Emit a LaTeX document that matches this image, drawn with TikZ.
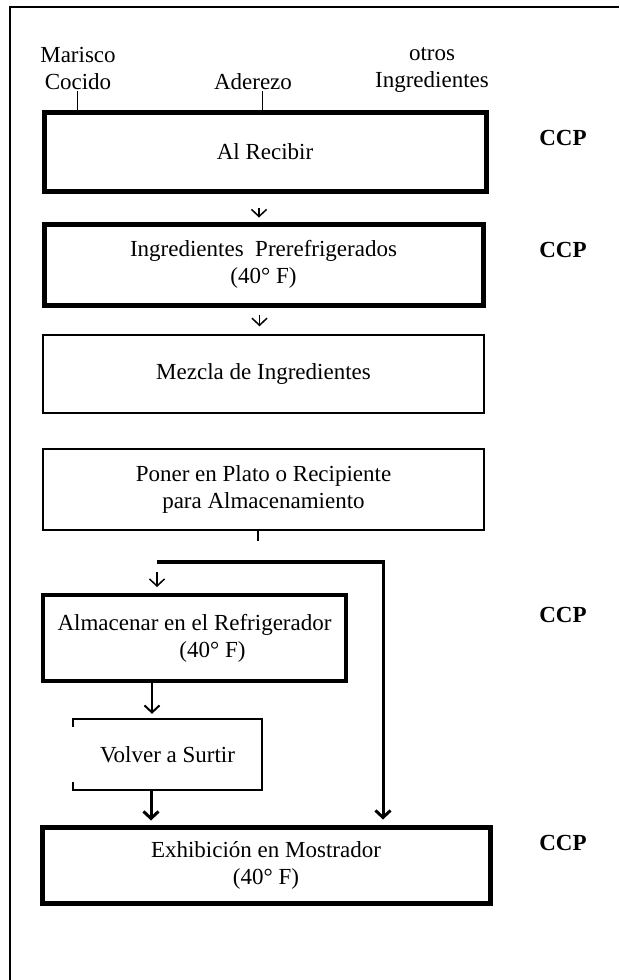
\documentclass[tikz,border=0pt]{standalone}
\usepackage{fontspec}
\setmainfont{Liberation Serif}
\usetikzlibrary{arrows.meta}

\begin{document}
\begin{tikzpicture}[x=1pt, y=1pt,
  every node/.style = {font=\fontsize{23}{27}\selectfont, inner sep=1pt},
  caja/.style = {draw, rectangle, align=center, inner sep=0pt},
  gruesa/.style = {caja, line width=5pt},
  fina/.style = {caja, line width=1.5pt},
  ccp/.style = {font=\fontsize{23}{27}\selectfont\bfseries},
  flecha/.style = {line width=1.5pt, -{Straight Barb[length=7pt,width=15pt]}}]

\useasboundingbox (0,0) rectangle (619,-980);
\draw[line width=2pt] (10,-980) -- (10,-7) -- (619,-7);

% entradas
\node[align=center] (marisco) at (78,-68.5) {Marisco\\Cocido};
\node (aderezo) at (253,-82) {Aderezo};
\node[align=center] (otros) at (432,-70) {otros\\Ingredientes};

% pasos
\node[gruesa, minimum width=442pt, minimum height=79pt] (recibir) at (265,-151.5) {Al Recibir};
\node[gruesa, minimum width=439pt, minimum height=81pt] (prerefri) at (263.5,-264.5) {Ingredientes\enspace Prerefrigerados\\(40° F)};
\node[fina, minimum width=441pt, minimum height=78pt] (mezcla) at (263.5,-374) {Mezcla de Ingredientes};
\node[fina, minimum width=441pt, minimum height=81pt] (poner) at (263.5,-489.5) {Poner en Plato o Recipiente\\para Almacenamiento};
\node[caja, line width=4pt, minimum width=303pt, minimum height=86pt] (almacenar) at (194.5,-638) {Almacenar en el Refrigerador\\\hspace*{36pt}(40° F)};
\node[caja, draw=none, minimum width=189pt, minimum height=71pt] (surtir) at (167.5,-754.5) {Volver a Surtir};
\node[gruesa, minimum width=448pt, minimum height=76pt] (exhibicion) at (266,-865) {Exhibición en Mostrador\\(40° F)};

\draw[line width=2pt] ([yshift=-8pt]surtir.north west) -- (surtir.north west) -- (surtir.north east) -- (surtir.south east) -- (surtir.south west) -- ([yshift=8pt]surtir.south west);

% CCP
\node[ccp] (ccp1) at (563,-138) {CCP};
\node[ccp] (ccp2) at (563,-250) {CCP};
\node[ccp] (ccp3) at (563,-615) {CCP};
\node[ccp] (ccp4) at (563,-843) {CCP};

% conexiones
\draw[line width=1pt] ([xshift=-1pt]marisco.south) -- ([xshift=-1pt]marisco.south |- recibir.north);
\draw[line width=1pt] ([xshift=9pt]aderezo.south) -- ([xshift=9pt]aderezo.south |- recibir.north);
\draw[flecha, shorten <=14pt, shorten >=4pt] ([xshift=-6pt]recibir.south) -- ([xshift=-6pt]recibir.south |- prerefri.north);
\draw[flecha, shorten <=7pt, shorten >=8pt] ([xshift=-4pt]prerefri.south) -- ([xshift=-4pt]prerefri.south |- mezcla.north);
\draw[line width=1.5pt] ([xshift=-5.5pt]poner.south) -- ++(0,-10);

\coordinate (izq) at (157,-562);
\coordinate (der) at (383,-562);
\draw[line width=3.5pt] (izq) -- ([xshift=1.75pt]der);
\draw[flecha, line width=3pt, shorten >=5pt] (der) -- (der |- exhibicion.north);
\draw[flecha, shorten <=10pt, shorten >=6pt] (izq) -- (izq |- almacenar.north);
\draw[flecha, line width=2pt, shorten >=5pt] ([xshift=-42.5pt]almacenar.south) -- ([xshift=-42.5pt]almacenar.south |- surtir.north);
\draw[flecha, line width=3pt, shorten >=4pt] ([xshift=-16.5pt]surtir.south) -- ([xshift=-16.5pt]surtir.south |- exhibicion.north);

\end{tikzpicture}
\end{document}
